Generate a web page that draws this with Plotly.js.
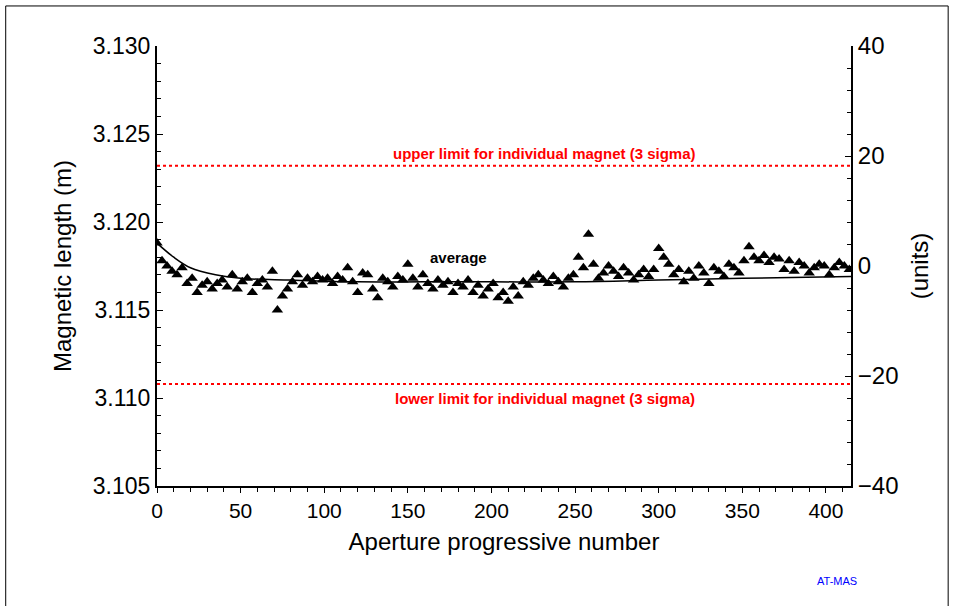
<!DOCTYPE html>
<html>
<head>
<meta charset="utf-8">
<script src="https://cdn.plot.ly/plotly-3.0.1.min.js"></script>
<style>body{margin:0;background:#fff}#chart{width:963px;height:606px}</style>
</head>
<body>
<div id="chart"></div>
<script>
// aperture numbers (every third aperture)
var apertures = [];
for (var a = 0; a <= 414; a += 3) apertures.push(a);

var lengths = [
  3.1188,3.1178,3.1175,3.1172,3.1170,3.1174,3.1165,3.1168,3.1160,3.1164,
  3.1166,3.1162,3.1165,3.1167,3.1163,3.1170,3.1162,3.1166,3.1168,3.1160,
  3.1165,3.1167,3.1163,3.1172,3.1150,3.1158,3.1162,3.1166,3.1170,3.1164,
  3.1168,3.1166,3.1169,3.1167,3.1168,3.1165,3.1169,3.1167,3.1174,3.1166,
  3.1160,3.1171,3.1170,3.1162,3.1157,3.1168,3.1166,3.1163,3.1169,3.1167,
  3.1176,3.1168,3.1163,3.1170,3.1165,3.1162,3.1167,3.1164,3.1166,3.1160,
  3.1165,3.1163,3.1167,3.1160,3.1164,3.1158,3.1162,3.1165,3.1157,3.1160,
  3.1155,3.1163,3.1158,3.1166,3.1164,3.1168,3.1170,3.1167,3.1165,3.1169,
  3.1166,3.1163,3.1168,3.1170,3.1180,3.1174,3.1193,3.1176,3.1168,3.1171,
  3.1175,3.1172,3.1169,3.1174,3.1171,3.1167,3.1170,3.1173,3.1169,3.1173,
  3.1185,3.1180,3.1176,3.1170,3.1173,3.1166,3.1172,3.1168,3.1175,3.1171,
  3.1165,3.1174,3.1172,3.1169,3.1176,3.1174,3.1171,3.1178,3.1186,3.1180,
  3.1178,3.1181,3.1177,3.1180,3.1179,3.1173,3.1178,3.1172,3.1177,3.1175,
  3.1171,3.1174,3.1176,3.1175,3.1170,3.1174,3.1177,3.1175,3.1173
];

var avgX = [0, 10, 20, 35, 50, 80, 120, 160, 200, 250, 300, 350, 415];
var avgY = [3.1188, 3.1180, 3.1174, 3.1170, 3.1168, 3.1167, 3.1166, 3.1166, 3.1166, 3.1166, 3.1167, 3.1168, 3.1169];

var limitX = [0, 415];
var upperLimit = [3.1232, 3.1232];
var lowerLimit = [3.1108, 3.1108];

var data = [
  {x: apertures, y: lengths, mode: 'markers', type: 'scatter',
   marker: {symbol: 'triangle-up', size: 10, color: '#000'}, hoverinfo: 'skip'},
  {x: avgX, y: avgY, mode: 'lines', line: {color: '#000', width: 1.5, shape: 'spline'}},
  {x: limitX, y: upperLimit, mode: 'lines', line: {color: '#ff0000', width: 2, dash: 'dot'}},
  {x: limitX, y: lowerLimit, mode: 'lines', line: {color: '#ff0000', width: 2, dash: 'dot'}},
  {x: [0], y: [0], yaxis: 'y2', mode: 'markers', marker: {opacity: 0}, hoverinfo: 'skip'}
];

var font = {family: 'Liberation Sans, Arial', size: 24, color: '#000'};

var layout = {
  width: 963, height: 606,
  showlegend: false,
  paper_bgcolor: '#fff', plot_bgcolor: '#fff',
  margin: {l: 157, r: 112, t: 46, b: 120},
  font: font,
  xaxis: {range: [0, 415], tickvals: [0,50,100,150,200,250,300,350,400],
          showline: true, linecolor: '#000', linewidth: 2, ticks: 'outside', ticklen: 5,
          tickcolor: '#000', showgrid: false, zeroline: false,
          minor: {dtick: 10, ticks: 'outside', ticklen: 4, tickcolor: '#000'},
          tickfont: {size: 21}, title: {text: 'Aperture progressive number', font: {size: 24}, standoff: 12}},
  yaxis: {range: [3.105, 3.130], dtick: 0.005, tickformat: '.3f',
          showline: true, linecolor: '#000', linewidth: 2, ticks: 'inside', ticklen: 6,
          tickcolor: '#000', showgrid: false, zeroline: false,
          minor: {dtick: 0.001, ticks: 'inside', ticklen: 4, tickcolor: '#000'},
          tickfont: {size: 23}, title: {text: 'Magnetic length (m)', font: {size: 24}, standoff: 14}},
  yaxis2: {overlaying: 'y', side: 'right', range: [-40, 40], dtick: 20,
           showline: true, linecolor: '#000', linewidth: 2, ticks: 'inside', ticklen: 6,
           tickcolor: '#000', showgrid: false, zeroline: false,
           minor: {dtick: 4, ticks: 'inside', ticklen: 4, tickcolor: '#000'},
           tickfont: {size: 24}, title: {text: '(units)', font: {size: 24}, standoff: 14}},
  annotations: [
    {x: 232, y: 3.1232, yshift: 12, text: '<b>upper limit for individual magnet (3 sigma)</b>', showarrow: false,
     font: {size: 15, color: '#ff0000'}},
    {x: 232, y: 3.1108, yshift: -15, text: '<b>lower limit for individual magnet (3 sigma)</b>', showarrow: false,
     font: {size: 15, color: '#ff0000'}},
    {x: 180, y: 3.1180, text: '<b>average</b>', showarrow: false, font: {size: 15, color: '#000'}},
    {xref: 'paper', yref: 'paper', x: 1.012, y: -0.233, text: 'AT-MAS', showarrow: false,
     font: {size: 11, color: '#0000ff'}}
  ],
  shapes: [
    {type: 'rect', xref: 'paper', yref: 'paper', x0: -0.218, x1: 1.14, y0: -0.3, y1: 1.091,
     line: {color: '#000', width: 1}}
  ]
};

Plotly.newPlot('chart', data, layout, {staticPlot: true});
</script>
</body>
</html>
